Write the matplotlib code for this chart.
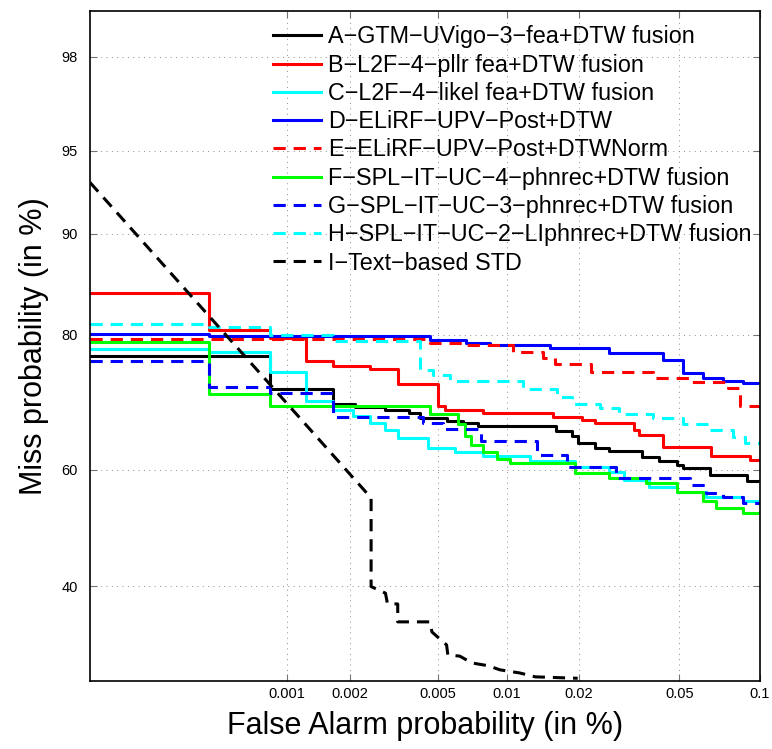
import math
import numpy as np
import matplotlib
matplotlib.use("Agg")
import matplotlib.pyplot as plt
from matplotlib.ticker import FixedLocator, FixedFormatter, NullLocator

plt.rcParams['font.family'] = ['Liberation Sans', 'DejaVu Sans']

# ---------------- data (percent) ----------------
labels = ["A\u2212GTM\u2212UVigo\u22123\u2212fea+DTW fusion",
          "B\u2212L2F\u22124\u2212pllr fea+DTW fusion",
          "C\u2212L2F\u22124\u2212likel fea+DTW fusion",
          "D\u2212ELiRF\u2212UPV\u2212Post+DTW",
          "E\u2212ELiRF\u2212UPV\u2212Post+DTWNorm",
          "F\u2212SPL\u2212IT\u2212UC\u22124\u2212phnrec+DTW fusion",
          "G\u2212SPL\u2212IT\u2212UC\u22123\u2212phnrec+DTW fusion",
          "H\u2212SPL\u2212IT\u2212UC\u22122\u2212LIphnrec+DTW fusion",
          "I\u2212Text\u2212based STD"]

A_fa = [0.0001, 0.000828, 0.00166, 0.0021, 0.0029, 0.00374, 0.00416, 0.0055, 0.00646, 0.0075,
        0.01608, 0.01875, 0.01986, 0.0232, 0.0266, 0.0359, 0.0419, 0.049, 0.0516, 0.0651, 0.0894, 0.1]
A_miss = [77.3, 72.8, 70.6, 70.1, 69.7, 69.2, 68.4, 68.0, 67.6, 67.1,
          66.3, 65.5, 64.5, 63.6, 63.1, 62.2, 61.4, 60.8, 60.3, 59.1, 58.1, 58.1]

B_fa = [0.0001, 0.000414, 0.000828, 0.00124, 0.00166, 0.00248, 0.00331, 0.00502, 0.00539, 0.00789,
        0.01562, 0.0206, 0.0232, 0.0334, 0.0349, 0.0431, 0.0657, 0.0918, 0.1]
B_miss = [84.7, 80.6, 79.6, 76.7, 76.0, 75.6, 73.5, 70.3, 69.7, 69.15,
          68.6, 68.1, 67.6, 66.5, 65.75, 63.85, 62.3, 61.6, 61.6]

C_fa = [0.0001, 0.000414, 0.000828, 0.00124, 0.00166, 0.00207, 0.00248, 0.0029, 0.00331, 0.00451,
        0.00596, 0.00789, 0.01252, 0.01929, 0.0266, 0.0305, 0.0383, 0.049, 0.0634, 0.0864, 0.1]
C_miss = [78.25, 77.8, 75.1, 71.0, 69.7, 68.7, 67.7, 66.5, 65.3, 63.7,
          62.9, 62.3, 61.4, 60.5, 59.7, 58.3, 57.1, 56.3, 55.4, 54.6, 54.6]

D_fa = [0.0001, 0.000414, 0.00462, 0.0067, 0.00847, 0.01518, 0.0266, 0.0433, 0.0517, 0.0613,
        0.0728, 0.0864, 0.1]
D_miss = [80.1, 79.9, 79.4, 79.0, 78.75, 78.4, 77.7, 76.8, 75.05, 74.35, 73.85, 73.6, 73.6]

E_fa = [0.0001, 0.00462, 0.0067, 0.01064, 0.01419, 0.01593, 0.02237, 0.0394, 0.0548, 0.076, 0.0842, 0.1]
E_miss = [79.5, 79.0, 78.7, 77.9, 77.1, 76.3, 75.2, 74.35, 73.8, 72.9, 70.2, 70.2]

F_fa = [0.0001, 0.000414, 0.000828, 0.00462, 0.00614, 0.00659, 0.00705, 0.00792, 0.00906, 0.01033,
        0.0193, 0.0266, 0.0373, 0.049, 0.0613, 0.0691, 0.0864, 0.1]
F_miss = [79.1, 72.0, 70.3, 69.0, 67.5, 65.6, 64.1, 62.9, 61.8, 61.2,
          59.4, 58.6, 57.7, 56.3, 54.6, 53.4, 52.6, 52.6]

G_fa = [0.0001, 0.000414, 0.000828, 0.00166, 0.00429, 0.00528, 0.00774, 0.01339, 0.01787, 0.0283,
        0.0548, 0.0634, 0.0728, 0.0864, 0.1]
G_miss = [76.6, 73.1, 72.15, 68.5, 67.7, 66.7, 64.7, 62.5, 60.5, 58.6, 57.4, 56.0, 55.4, 54.3, 54.3]

H_fa = [0.0001, 0.000414, 0.000828, 0.00166, 0.00416, 0.00477, 0.00567, 0.01171, 0.01623, 0.01875,
        0.0243, 0.0291, 0.0394, 0.0516, 0.0651, 0.0793, 0.0879, 0.1]
H_miss = [81.3, 80.9, 80.0, 79.2, 75.5, 74.8, 73.9, 72.7, 71.6, 70.6,
          70.0, 69.1, 68.4, 67.5, 66.5, 65.4, 64.4, 64.4]

I_fa = [0.0001, 0.0025, 0.0025, 0.00291, 0.00297, 0.00331, 0.00331, 0.00462, 0.00472, 0.00548,
        0.00555, 0.00627, 0.00707, 0.0083, 0.00936, 0.01137, 0.01321, 0.0198]
I_miss = [93.4, 55.2, 39.9, 38.8, 37.1, 37.0, 34.1, 34.1, 32.5, 30.5,
          29.0, 28.8, 27.8, 27.4, 26.8, 26.35, 25.8, 25.6]

x_ticks = [0.001, 0.002, 0.005, 0.01, 0.02, 0.05, 0.1]
x_ticklabels = ["0.001", "0.002", "0.005", "0.01", "0.02", "0.05", "0.1"]
y_ticks = [40, 60, 80, 90, 95, 98]
y_ticklabels = ["40", "60", "80", "90", "95", "98"]

# ---------------- normal deviate scale ----------------
_a = [-3.969683028665376e+01, 2.209460984245205e+02, -2.759285104469687e+02,
      1.383577518672690e+02, -3.066479806614716e+01, 2.506628277459239e+00]
_b = [-5.447609879822406e+01, 1.615858368580409e+02, -1.556989798598866e+02,
      6.680131188771972e+01, -1.328068155288572e+01]
_c = [-7.784894002430293e-03, -3.223964580411365e-01, -2.400758277161838e+00,
      -2.549671010029449e+00, 4.374664141464968e+00, 2.938163982698783e+00]
_d = [7.784695709041462e-03, 3.224671290700398e-01, 2.445134137142996e+00,
      3.754408661907416e+00]


def _ppf(p):
    p = np.clip(np.asarray(p, dtype=float), 1e-15, 1 - 1e-15)
    plow = 0.02425
    lo = p < plow
    hi = p > 1 - plow
    q = np.sqrt(-2 * np.log(np.where(lo, p, 0.5)))
    xl = (((((_c[0]*q+_c[1])*q+_c[2])*q+_c[3])*q+_c[4])*q+_c[5]) / \
         ((((_d[0]*q+_d[1])*q+_d[2])*q+_d[3])*q+1)
    q2 = np.sqrt(-2 * np.log(np.where(hi, 1 - p, 0.5)))
    xh = -(((((_c[0]*q2+_c[1])*q2+_c[2])*q2+_c[3])*q2+_c[4])*q2+_c[5]) / \
        ((((_d[0]*q2+_d[1])*q2+_d[2])*q2+_d[3])*q2+1)
    qm = p - 0.5
    r = qm * qm
    xm = (((((_a[0]*r+_a[1])*r+_a[2])*r+_a[3])*r+_a[4])*r+_a[5])*qm / \
         (((((_b[0]*r+_b[1])*r+_b[2])*r+_b[3])*r+_b[4])*r+1)
    return np.where(lo, xl, np.where(hi, xh, xm))


_erfc = np.vectorize(math.erfc, otypes=[float])


def fwd(v):
    return _ppf(np.asarray(v, dtype=float) / 100.0)


def inv(z):
    return 100.0 * 0.5 * _erfc(-np.asarray(z, dtype=float) / math.sqrt(2))


# ---------------- figure ----------------
W, H = 772, 749
fig = plt.figure(figsize=(W / 100, H / 100), dpi=100)
ax = fig.add_axes([90 / W, 1 - 681 / H, 670 / W, 670 / H])
ax.set_xscale('function', functions=(fwd, inv))
ax.set_yscale('function', functions=(fwd, inv))
ax.set_xlim(0.0001, 0.1)
ax.set_ylim(25.22, 98.79)

lw = 2.2
dash = (4.0, 2.6)
series = [
    (A_fa, A_miss, '#000000', None),
    (B_fa, B_miss, '#ff0000', None),
    (C_fa, C_miss, '#00ffff', None),
    (D_fa, D_miss, '#0000ff', None),
    (E_fa, E_miss, '#ff0000', dash),
    (F_fa, F_miss, '#00ff00', None),
    (G_fa, G_miss, '#0000ff', dash),
    (H_fa, H_miss, '#00ffff', dash),
]
handles = []
for (fa, miss, col, ds), lab in zip(series, labels[:8]):
    kw = dict(color=col, lw=lw, drawstyle='steps-post', label=lab)
    if ds is not None:
        kw['dashes'] = ds
    h, = ax.plot(fa, miss, **kw)
    handles.append(h)
h, = ax.plot(I_fa, I_miss, color='#000000', lw=lw, dashes=dash, label=labels[8])
handles.append(h)

ax.xaxis.set_major_locator(FixedLocator(x_ticks))
ax.xaxis.set_major_formatter(FixedFormatter(x_ticklabels))
ax.yaxis.set_major_locator(FixedLocator(y_ticks))
ax.yaxis.set_major_formatter(FixedFormatter(y_ticklabels))
ax.xaxis.set_minor_locator(NullLocator())
ax.yaxis.set_minor_locator(NullLocator())

ax.grid(True, color='0.55', linestyle=(0, (1, 4.5)), linewidth=0.7)
ax.tick_params(axis='both', direction='in', length=5, width=0.8, color='0.45',
               top=True, right=True, labelsize=10.5)
ax.tick_params(axis='x', pad=4.5)
ax.tick_params(axis='y', pad=9)
for s in ax.spines.values():
    s.set_linewidth(1.2)

ax.set_xlabel("False Alarm probability (in %)", fontsize=22, labelpad=7)
ax.set_ylabel("Miss probability (in %)", fontsize=22, labelpad=9)

leg = ax.legend(handles=handles, loc='upper left',
                bbox_to_anchor=(273 / W, 1 - 25.5 / H), bbox_transform=fig.transFigure,
                frameon=False, fontsize=16.8, handlelength=2.05, handletextpad=0.3,
                labelspacing=0.225, borderpad=0, borderaxespad=0)

fig.savefig("out.png", dpi=100)
